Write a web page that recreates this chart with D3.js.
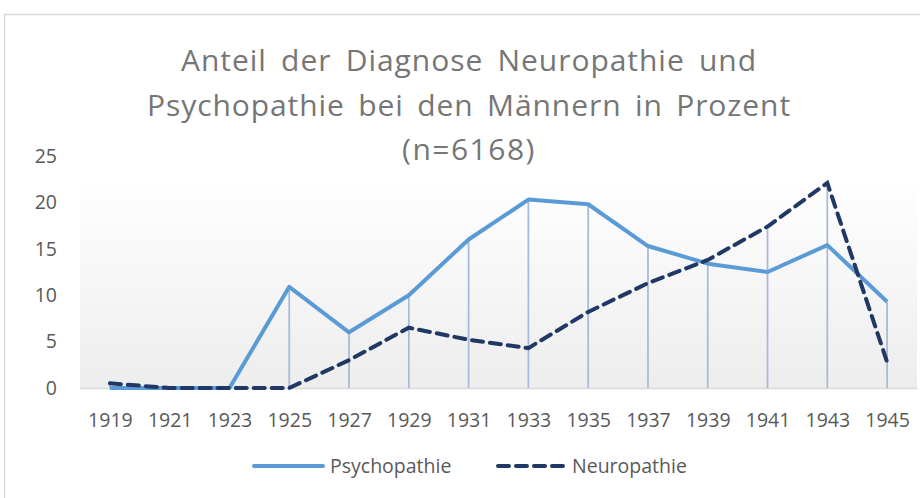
<!DOCTYPE html>
<html>
<head>
<meta charset="utf-8">
<script src="https://cdn.jsdelivr.net/npm/d3@7"></script>
<style>
  body { margin: 0; background: #fff; }
  text { font-family: "Open Sans", "Noto Sans", sans-serif; fill: #595959; }
</style>
</head>
<body>
<div id="chart"></div>
<script>
// data
var years = ["1919","1921","1923","1925","1927","1929","1931","1933","1935","1937","1939","1941","1943","1945"];
var psychopathie = [0, 0, 0, 10.9, 6, 10, 16, 20.3, 19.8, 15.3, 13.4, 12.5, 15.4, 9.3];
var neuropathie = [0.5, 0, 0, 0, 3, 6.5, 5.2, 4.3, 8.2, 11.3, 13.8, 17.4, 22.1, 2.8];
var yTicks = [0, 5, 10, 15, 20, 25];
var titleLines = ["Anteil der Diagnose Neuropathie und", "Psychopathie bei den Männern in Prozent", "(n=6168)"];
var titleWidths = [576, 644, 141];

var svgWidth = 920;
var svgHeight = 498;
var margin = {top: 156, right: 3, bottom: 110, left: 80};
var chartWidth = svgWidth - margin.left - margin.right;
var chartHeight = svgHeight - margin.top - margin.bottom;

var svg = d3.select('#chart')
            .append('svg')
            .attr('width', svgWidth)
            .attr('height', svgHeight);

// outer frame
svg.append('path')
   .attr('d', 'M4.5,498 V14.5 H920')
   .attr('fill', 'none')
   .attr('stroke', '#d9d9d9')
   .attr('stroke-width', 1.5);

var defs = svg.append('defs');
var grad = defs.append('linearGradient')
   .attr('id', 'bg')
   .attr('x1', 0).attr('y1', 0).attr('x2', 0).attr('y2', 1);
grad.append('stop').attr('offset', '0%').attr('stop-color', '#ffffff');
grad.append('stop').attr('offset', '100%').attr('stop-color', '#ededed');

var chartGroup = svg.append('g')
                    .attr('transform', `translate(${margin.left},${margin.top})`);

var x = d3.scalePoint().domain(years).range([0, chartWidth]).padding(0.5);
var y = d3.scaleLinear().domain([0, 25]).range([chartHeight, 0]);

chartGroup.append('rect')
   .attr('x', 0).attr('y', y(22.5))
   .attr('width', chartWidth).attr('height', chartHeight - y(22.5))
   .attr('fill', 'url(#bg)');

// drop lines
chartGroup.selectAll('line.drop')
   .data(years)
   .enter()
   .append('line')
   .attr('class', 'drop')
   .attr('x1', d => x(d)).attr('x2', d => x(d))
   .attr('y1', y(0))
   .attr('y2', (d, i) => y(Math.max(psychopathie[i], neuropathie[i])))
   .attr('stroke', '#a6b9d8')
   .attr('stroke-width', 1.75);

// x axis
var bottomAxis = d3.axisBottom(x).tickSize(0).tickPadding(25);
var xAxis = chartGroup.append('g')
   .attr('transform', `translate(0,${chartHeight})`)
   .call(bottomAxis);
xAxis.select('.domain').attr('stroke', '#d9d9d9').attr('stroke-width', 1.5);
xAxis.selectAll('text').style('font-size', '19.5px').attr('fill', '#595959');

// y axis
var leftAxis = d3.axisLeft(y).tickValues(yTicks).tickSize(0).tickPadding(23);
var yAxis = chartGroup.append('g').call(leftAxis);
yAxis.select('.domain').remove();
yAxis.selectAll('text').style('font-size', '19.5px').attr('fill', '#595959');

var line = d3.line()
   .x((d, i) => x(years[i]))
   .y(d => y(d));

chartGroup.append('path')
   .datum(psychopathie)
   .attr('d', line)
   .attr('fill', 'none')
   .attr('stroke', '#5b9bd5')
   .attr('stroke-width', 4)
   .attr('stroke-linejoin', 'round');

chartGroup.append('path')
   .datum(neuropathie)
   .attr('d', line)
   .attr('fill', 'none')
   .attr('stroke', '#203864')
   .attr('stroke-width', 4)
   .attr('stroke-dasharray', '11,7')
   .attr('stroke-linecap', 'round');

// title: spread the words out a bit like the original
var titles = svg.append('g').selectAll('text')
   .data(titleLines)
   .enter()
   .append('text')
   .attr('x', 469)
   .attr('y', (d, i) => 71 + i * 44.5)
   .attr('text-anchor', 'middle')
   .style('font-size', '30px')
   .style('fill', '#767676')
   .text(d => d);
titles.each(function(d, i) {
   var w = this.getComputedTextLength();
   var extra = Math.max(0, titleWidths[i] - w);
   var spaces = d.split(' ').length - 1;
   var ls = spaces ? extra * 0.6 / d.length : Math.min(1.5, extra / d.length);
   var ws = spaces ? extra * 0.4 / spaces : 0;
   d3.select(this).style('letter-spacing', ls + 'px').style('word-spacing', ws + 'px');
});

// legend
var legend = svg.append('g');
legend.append('line')
   .attr('x1', 254).attr('x2', 323).attr('y1', 466).attr('y2', 466)
   .attr('stroke', '#5b9bd5').attr('stroke-width', 4).attr('stroke-linecap', 'round');
legend.append('text')
   .attr('x', 330).attr('y', 473)
   .style('font-size', '19.5px')
   .text('Psychopathie');
legend.append('line')
   .attr('x1', 498).attr('x2', 566).attr('y1', 466).attr('y2', 466)
   .attr('stroke', '#203864').attr('stroke-width', 4)
   .attr('stroke-dasharray', '11,7').attr('stroke-linecap', 'round');
legend.append('text')
   .attr('x', 572).attr('y', 473)
   .style('font-size', '19.5px')
   .text('Neuropathie');
</script>
</body>
</html>
